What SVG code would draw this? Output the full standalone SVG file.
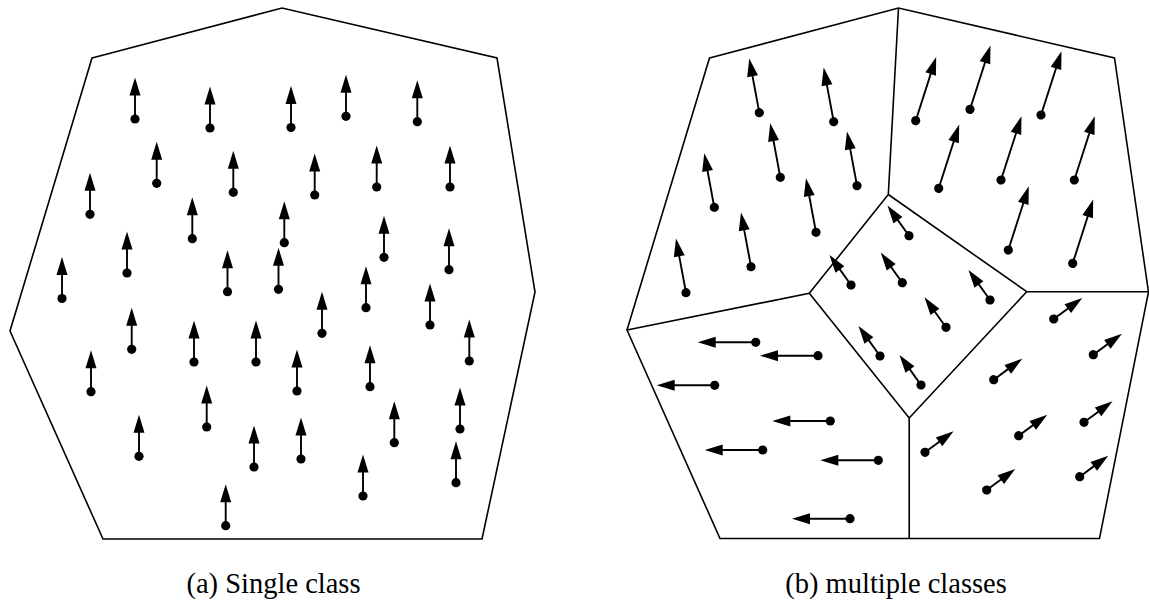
<svg xmlns="http://www.w3.org/2000/svg" width="1149" height="603" viewBox="0 0 1149 603">
<style>
.outline{fill:none;stroke:#000;stroke-width:1.6;stroke-linejoin:miter}
.shaft{stroke:#000;stroke-width:1.9}
.head,.dot{fill:#000;stroke:none}
.label{font-size:28.5px;fill:#000;text-anchor:middle}
</style>
<defs>
<g id="arr-up"><line class="shaft" x1="0" y1="0" x2="0" y2="-25.5"/><polygon class="head" points="0,-41.5 -5.5,-23.5 5.5,-23.5"/><circle class="dot" r="4.6"/></g>
<g id="arr-tl" transform="rotate(-10.5)"><line class="shaft" x1="0" y1="0" x2="0" y2="-39"/><polygon class="head" points="0,-55 -5.5,-37 5.5,-37"/><circle class="dot" r="4.6"/></g>
<g id="arr-tr" transform="rotate(17.8)"><line class="shaft" x1="0" y1="0" x2="0" y2="-51"/><polygon class="head" points="0,-67 -5.5,-49 5.5,-49"/><circle class="dot" r="4.6"/></g>
<g id="arr-mid" transform="rotate(-35.6)"><line class="shaft" x1="0" y1="0" x2="0" y2="-21"/><polygon class="head" points="0,-37 -5.5,-19 5.5,-19"/><circle class="dot" r="4.6"/></g>
<g id="arr-bl" transform="rotate(-90)"><line class="shaft" x1="0" y1="0" x2="0" y2="-42"/><polygon class="head" points="0,-58 -5.5,-40 5.5,-40"/><circle class="dot" r="4.6"/></g>
<g id="arr-br" transform="rotate(53.6)"><line class="shaft" x1="0" y1="0" x2="0" y2="-19.5"/><polygon class="head" points="0,-35.5 -5.5,-17.5 5.5,-17.5"/><circle class="dot" r="4.6"/></g>
</defs>
<rect width="1149" height="603" fill="#fff"/>
<g id="panel-a">
<polygon id="region-a" class="outline" points="92,58 282,8 497,58 535,292 482,539 103,539 10,331"/>
<g id="vectors-a">
<use href="#arr-up" x="135" y="119"/>
<use href="#arr-up" x="210" y="128"/>
<use href="#arr-up" x="291" y="127.5"/>
<use href="#arr-up" x="346" y="116.3"/>
<use href="#arr-up" x="417.3" y="121.7"/>
<use href="#arr-up" x="156.7" y="183.3"/>
<use href="#arr-up" x="233.3" y="192.3"/>
<use href="#arr-up" x="314.7" y="195"/>
<use href="#arr-up" x="376.7" y="187"/>
<use href="#arr-up" x="450" y="187"/>
<use href="#arr-up" x="90" y="214.3"/>
<use href="#arr-up" x="192.3" y="238.7"/>
<use href="#arr-up" x="284.3" y="242.7"/>
<use href="#arr-up" x="384" y="257.3"/>
<use href="#arr-up" x="449" y="269.7"/>
<use href="#arr-up" x="127" y="273"/>
<use href="#arr-up" x="227.5" y="291.7"/>
<use href="#arr-up" x="278.5" y="289.3"/>
<use href="#arr-up" x="62" y="298.5"/>
<use href="#arr-up" x="366" y="307.7"/>
<use href="#arr-up" x="322" y="333.3"/>
<use href="#arr-up" x="430" y="325"/>
<use href="#arr-up" x="469.3" y="361"/>
<use href="#arr-up" x="131.7" y="349.3"/>
<use href="#arr-up" x="194" y="362"/>
<use href="#arr-up" x="256" y="362"/>
<use href="#arr-up" x="91" y="391.7"/>
<use href="#arr-up" x="297" y="391"/>
<use href="#arr-up" x="370" y="386.7"/>
<use href="#arr-up" x="206.7" y="427"/>
<use href="#arr-up" x="139" y="456.3"/>
<use href="#arr-up" x="254" y="467"/>
<use href="#arr-up" x="460" y="429"/>
<use href="#arr-up" x="301" y="459"/>
<use href="#arr-up" x="394.3" y="442.7"/>
<use href="#arr-up" x="456" y="482.7"/>
<use href="#arr-up" x="363" y="496"/>
<use href="#arr-up" x="225.7" y="525.7"/>
</g>
<text class="label" font-family="'Liberation Serif', 'Times New Roman', serif" x="273.5" y="593">(a) Single class</text>
</g>
<g id="panel-b">
<polygon id="region-b" class="outline" points="709.5,58 898.5,8 1114.5,58 1148.5,292 1099.5,538.5 720,538.5 627,330"/>
<path id="partition-b" class="outline" d="M898.5,8 L888.3,194.5 L809.3,293.3 L627,330 M809.3,293.3 L909.2,418 L909.2,538.5 M909.2,418 L1026.7,291.7 L1148.5,291.7 M888.3,194.5 L1026.7,291.7"/>
<g id="vectors-b-topleft">
<use href="#arr-tl" x="759.3" y="112.7"/>
<use href="#arr-tl" x="833.7" y="121.7"/>
<use href="#arr-tl" x="780.3" y="177.3"/>
<use href="#arr-tl" x="857" y="185.7"/>
<use href="#arr-tl" x="714.3" y="207.3"/>
<use href="#arr-tl" x="816" y="232.3"/>
<use href="#arr-tl" x="751" y="266.7"/>
<use href="#arr-tl" x="686" y="292.7"/>
</g>
<g id="vectors-b-topright">
<use href="#arr-tr" x="915.7" y="120.7"/>
<use href="#arr-tr" x="970" y="109.3"/>
<use href="#arr-tr" x="1041" y="115"/>
<use href="#arr-tr" x="938.7" y="188.3"/>
<use href="#arr-tr" x="1001" y="180"/>
<use href="#arr-tr" x="1074.3" y="180"/>
<use href="#arr-tr" x="1008.3" y="250"/>
<use href="#arr-tr" x="1072.7" y="263.3"/>
</g>
<g id="vectors-b-middle">
<use href="#arr-mid" x="909" y="235.7"/>
<use href="#arr-mid" x="851" y="285"/>
<use href="#arr-mid" x="902.3" y="282.7"/>
<use href="#arr-mid" x="990" y="300"/>
<use href="#arr-mid" x="946" y="327.3"/>
<use href="#arr-mid" x="880" y="356"/>
<use href="#arr-mid" x="921" y="385"/>
</g>
<g id="vectors-b-bottomleft">
<use href="#arr-bl" x="755.7" y="342.3"/>
<use href="#arr-bl" x="818" y="355.7"/>
<use href="#arr-bl" x="714.7" y="385.3"/>
<use href="#arr-bl" x="830.3" y="421"/>
<use href="#arr-bl" x="762.7" y="450"/>
<use href="#arr-bl" x="878.3" y="460.3"/>
<use href="#arr-bl" x="850" y="518.7"/>
</g>
<g id="vectors-b-bottomright">
<use href="#arr-br" x="1053.7" y="319"/>
<use href="#arr-br" x="1093.3" y="354.7"/>
<use href="#arr-br" x="993.7" y="379.7"/>
<use href="#arr-br" x="1084" y="422.3"/>
<use href="#arr-br" x="1018.7" y="435.7"/>
<use href="#arr-br" x="925" y="452.3"/>
<use href="#arr-br" x="1079.7" y="476.7"/>
<use href="#arr-br" x="986.7" y="490"/>
</g>
<text class="label" font-family="'Liberation Serif', 'Times New Roman', serif" x="896" y="593">(b) multiple classes</text>
</g>
</svg>
